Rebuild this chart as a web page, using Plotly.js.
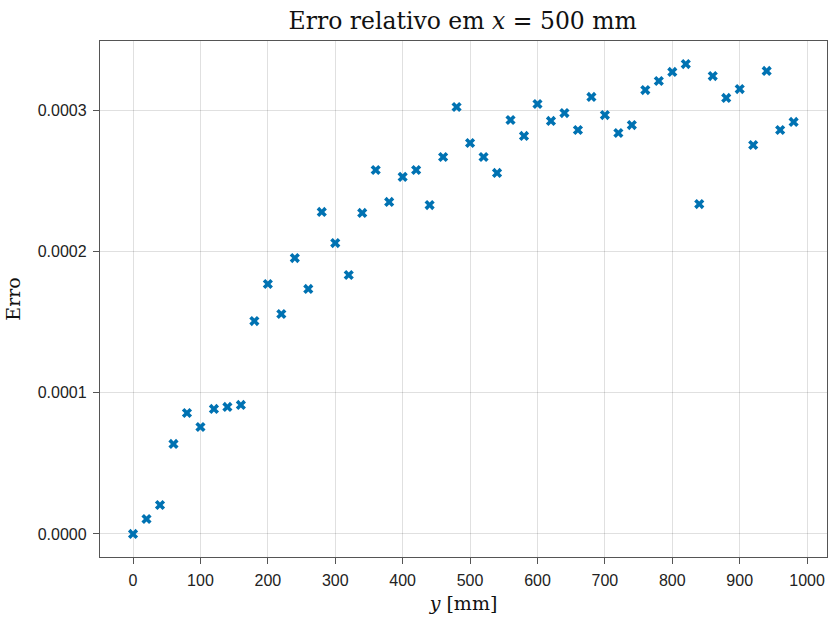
<!DOCTYPE html>
<html>
<head>
<meta charset="utf-8">
<script src="https://cdn.plot.ly/plotly-3.0.1.min.js"></script>
<style>html,body{margin:0;padding:0;background:#fff;}#chart{width:830px;height:619px;}</style>
</head>
<body>
<div id="chart"></div>
<script>
const yPositions = [0,20,40,60,80,100,120,140,160,180,200,220,240,260,280,300,320,340,360,380,400,420,440,460,480,500,520,540,560,580,600,620,640,660,680,700,720,740,760,780,800,820,840,860,880,900,920,940,960,980];
const erro = [0.0000000,0.0000106,0.0000205,0.0000637,0.0000856,0.0000757,0.0000885,0.0000899,0.0000913,0.0001507,
0.0001769,0.0001557,0.0001953,0.0001734,0.0002279,0.0002059,0.0001833,0.0002272,0.0002576,0.0002350,
0.0002527,0.0002576,0.0002328,0.0002668,0.0003022,0.0002767,0.0002668,0.0002555,0.0002930,0.0002817,
0.0003043,0.0002923,0.0002979,0.0002859,0.0003093,0.0002965,0.0002838,0.0002894,0.0003142,0.0003206,
0.0003270,0.0003326,0.0002335,0.0003241,0.0003086,0.0003149,0.0002753,0.0003277,0.0002859,0.0002916];
const xTicks = [0,100,200,300,400,500,600,700,800,900,1000];
const yTicks = [0,0.0001,0.0002,0.0003];
const yTickText = ["0.0000","0.0001","0.0002","0.0003"];

const serif = 'DejaVu Serif, Liberation Serif, serif';
const trace = {
  x: yPositions, y: erro, type: 'scatter', mode: 'markers',
  marker: {symbol: 'x', size: 9, color: '#0072B2', line: {width: 0}},
  hoverinfo: 'skip'
};
const axisCommon = {
  showline: true, mirror: true, linecolor: '#555', linewidth: 1.2,
  ticks: 'outside', ticklen: 6, tickcolor: '#555', tickwidth: 1,
  ticklabelstandoff: 3,
  showgrid: true, gridcolor: 'rgba(0,0,0,0.12)', gridwidth: 1,
  zeroline: false,
  tickfont: {family: 'Liberation Sans, Arial, sans-serif', size: 16, color: '#222'}
};
const layout = {
  width: 830, height: 619,
  margin: {l: 100, r: 3, t: 41, b: 62},
  paper_bgcolor: '#fff', plot_bgcolor: '#fff',
  showlegend: false,
  title: {text: 'Erro relativo em <i>x</i> = 500 mm', x: 0.5575, xanchor: 'center', y: 0.966, yanchor: 'middle',
    font: {family: serif, size: 23.5, color: '#111'}},
  xaxis: Object.assign({}, axisCommon, {
    range: [-49, 1029.5], tickvals: xTicks, ticktext: xTicks.map(String),
    title: {text: '<i>y</i> [mm]', standoff: 8, font: {family: serif, size: 19, color: '#111'}}
  }),
  yaxis: Object.assign({}, axisCommon, {
    range: [-0.0000163, 0.0003489], tickvals: yTicks, ticktext: yTickText,
    title: {text: 'Erro', standoff: 12, font: {family: serif, size: 19, color: '#111'}}
  })
};
Plotly.newPlot('chart', [trace], layout, {displayModeBar: false, staticPlot: true});
</script>
</body>
</html>
